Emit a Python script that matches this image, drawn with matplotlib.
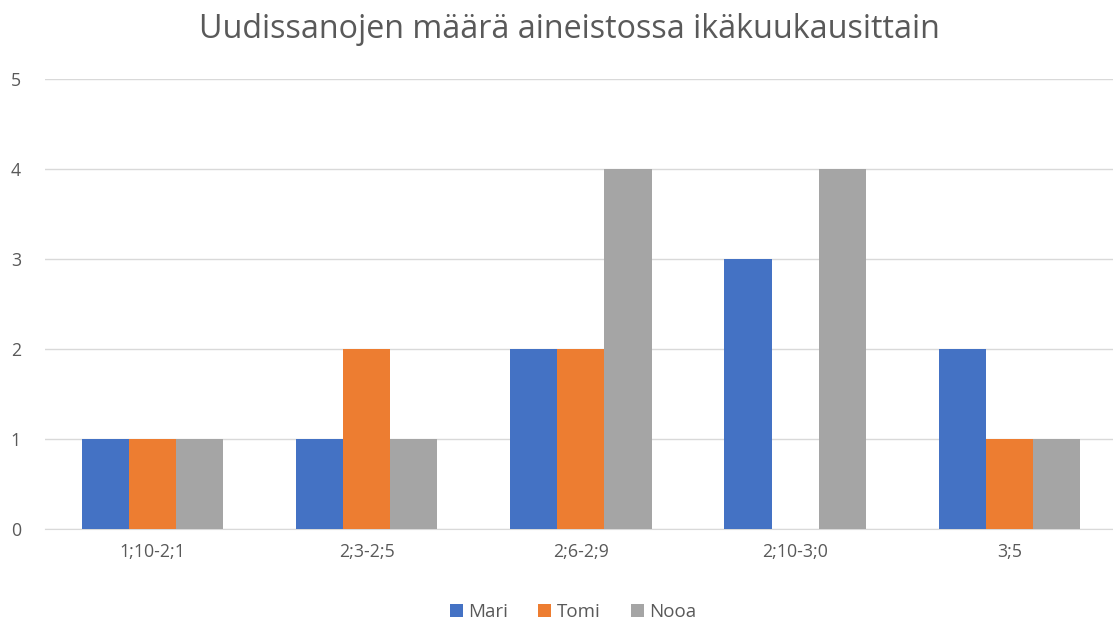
import matplotlib.pyplot as plt
import numpy as np

plt.rcParams.update({
    "font.family": ["Open Sans", "DejaVu Sans"],
    "text.color": "#595959",
    "xtick.color": "#595959",
    "ytick.color": "#595959",
})

categories = ["1;10-2;1", "2;3-2;5", "2;6-2;9", "2;10-3;0", "3;5"]
mari = [1, 1, 2, 3, 2]
tomi = [1, 2, 2, 0, 1]
nooa = [1, 1, 4, 4, 1]
series_names = ["Mari", "Tomi", "Nooa"]
colors = ["#4472C4", "#ED7D31", "#A5A5A5"]

fig = plt.figure(figsize=(11.13, 6.25), dpi=100)
ax = fig.add_axes([0.0408, 0.1536, 0.9623, 0.72])

x = np.arange(len(categories))
w = 0.22
for i, (vals, name, c) in enumerate(zip([mari, tomi, nooa], series_names, colors)):
    ax.bar(x + (i - 1) * w, vals, w, color=c, label=name, zorder=3)

ax.set_xlim(-0.5, len(categories) - 0.5)
ax.set_ylim(0, 5)
ax.set_yticks(range(0, 6))
ax.set_xticks(x)
ax.set_xticklabels(categories)
ax.tick_params(axis="both", length=0, labelsize=12.8)
ax.tick_params(axis="x", pad=10)
ax.tick_params(axis="y", pad=25)
for lab in ax.get_yticklabels():
    lab.set_horizontalalignment("left")
ax.grid(axis="y", color="#D9D9D9", linewidth=1, zorder=0)
for s in ["top", "right", "left"]:
    ax.spines[s].set_visible(False)
ax.spines["bottom"].set_color("#D9D9D9")

fig.suptitle("Uudissanojen määrä aineistossa ikäkuukausittain", fontsize=23.2, x=0.512, y=0.98, color="#595959")
fig.legend(loc="lower center", bbox_to_anchor=(0.515, -0.02), ncol=3, frameon=False,
           fontsize=13.5, handlelength=0.7, handleheight=0.7, handletextpad=0.3, columnspacing=1.6)

fig.savefig("out.png", dpi=100)
